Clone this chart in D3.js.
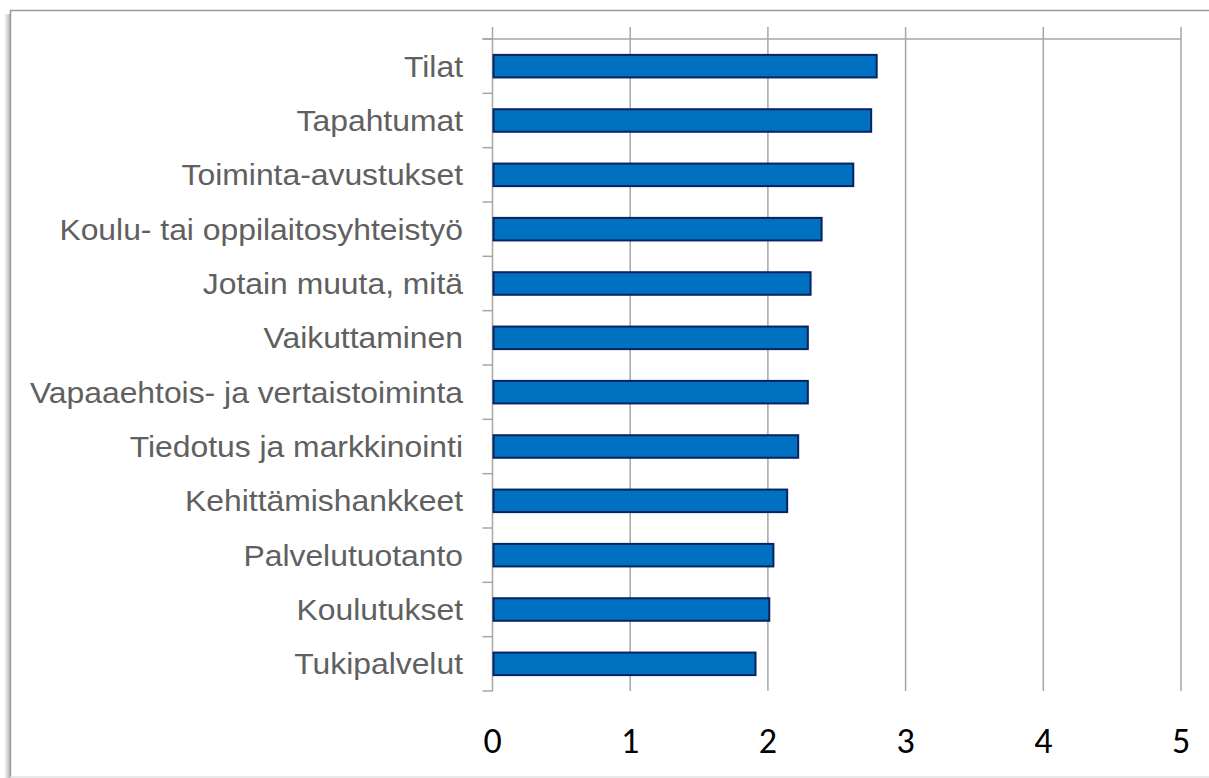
<!DOCTYPE html>
<html>
<head>
<meta charset="utf-8">
<script src="https://cdn.jsdelivr.net/npm/d3@7"></script>
<style>
  html, body { margin: 0; padding: 0; background: #fff; }
  svg { display: block; }
</style>
</head>
<body>
<div id="chart"></div>
<script>
// categories top to bottom
const categories = [
    'Tilat',
    'Tapahtumat',
    'Toiminta-avustukset',
    'Koulu- tai oppilaitosyhteistyö',
    'Jotain muuta, mitä',
    'Vaikuttaminen',
    'Vapaaehtois- ja vertaistoiminta',
    'Tiedotus ja markkinointi',
    'Kehittämishankkeet',
    'Palvelutuotanto',
    'Koulutukset',
    'Tukipalvelut'
];
const values = [2.79, 2.75, 2.62, 2.39, 2.31, 2.29, 2.29, 2.22, 2.14, 2.04, 2.01, 1.91];
const xTicks = [0, 1, 2, 3, 4, 5];

const width = 1209, height = 778;
const margin = { top: 39, right: 28, bottom: 87, left: 492.5 };

const svg = d3.select('#chart').append('svg')
    .attr('width', width)
    .attr('height', height);

// shadow for the frame
const defs = svg.append('defs');
const grad = defs.append('linearGradient')
    .attr('id', 'shadowGrad')
    .attr('x1', '0').attr('x2', '1');
grad.append('stop').attr('offset', '0%').attr('stop-color', '#fff');
grad.append('stop').attr('offset', '100%').attr('stop-color', '#b8b8b8');

svg.append('rect')
    .attr('x', 4).attr('y', 14)
    .attr('width', 6).attr('height', height - 14)
    .attr('fill', 'url(#shadowGrad)');

// frame
svg.append('path')
    .attr('d', 'M' + 10.5 + ',' + height + 'V10.5H' + width)
    .attr('fill', 'none')
    .attr('stroke', '#9a9a9a')
    .attr('stroke-width', 1.5);
svg.append('line')
    .attr('x1', 10).attr('x2', width)
    .attr('y1', 777).attr('y2', 777)
    .attr('stroke', '#e0e0e0')
    .attr('stroke-width', 1.5);

const x = d3.scaleLinear()
    .domain([0, 5])
    .range([margin.left, width - margin.right]);

const y = d3.scaleBand()
    .domain(categories)
    .range([margin.top, height - margin.bottom])
    .paddingInner(0.585)
    .paddingOuter(0.2925);

const yStep = (height - margin.bottom - margin.top) / categories.length;

// vertical gridlines
svg.append('g')
    .selectAll('line')
    .data(xTicks)
    .join('line')
      .attr('x1', d => x(d)).attr('x2', d => x(d))
      .attr('y1', 27).attr('y2', height - margin.bottom)
      .attr('stroke', '#a6a6a6')
      .attr('stroke-width', 1.5);

// top line
svg.append('line')
    .attr('x1', margin.left - 10).attr('x2', x(5))
    .attr('y1', margin.top).attr('y2', margin.top)
    .attr('stroke', '#a6a6a6')
    .attr('stroke-width', 1.5);

// category ticks
svg.append('g')
    .selectAll('line')
    .data(d3.range(categories.length + 1))
    .join('line')
      .attr('x1', margin.left - 10).attr('x2', margin.left)
      .attr('y1', i => margin.top + i * yStep).attr('y2', i => margin.top + i * yStep)
      .attr('stroke', '#a6a6a6')
      .attr('stroke-width', 1.5);

// bars
svg.append('g')
    .selectAll('rect')
    .data(values)
    .join('rect')
      .attr('x', x(0) + 1)
      .attr('y', (d, i) => y(categories[i]))
      .attr('width', d => x(d) - x(0) - 1)
      .attr('height', y.bandwidth())
      .attr('fill', '#0070c0')
      .attr('stroke', '#0a2260')
      .attr('stroke-width', 2);

// category labels
svg.append('g')
    .selectAll('text')
    .data(categories)
    .join('text')
      .attr('transform', d => 'translate(' + 463 + ',' + (y(d) + y.bandwidth() / 2 + 10.5) + ') scale(1.08,1)')
      .attr('text-anchor', 'end')
      .attr('font-family', 'Liberation Sans, Arial, sans-serif')
      .attr('font-size', '29.5px')
      .attr('fill', '#606060')
      .text(d => d);

// value axis labels
svg.append('g')
    .selectAll('text')
    .data(xTicks)
    .join('text')
      .attr('x', d => x(d))
      .attr('y', 753)
      .attr('text-anchor', 'middle')
      .attr('font-family', 'Carlito, Lato, sans-serif')
      .attr('font-size', '36px')
      .attr('fill', '#000')
      .text(d => d);
</script>
</body>
</html>
